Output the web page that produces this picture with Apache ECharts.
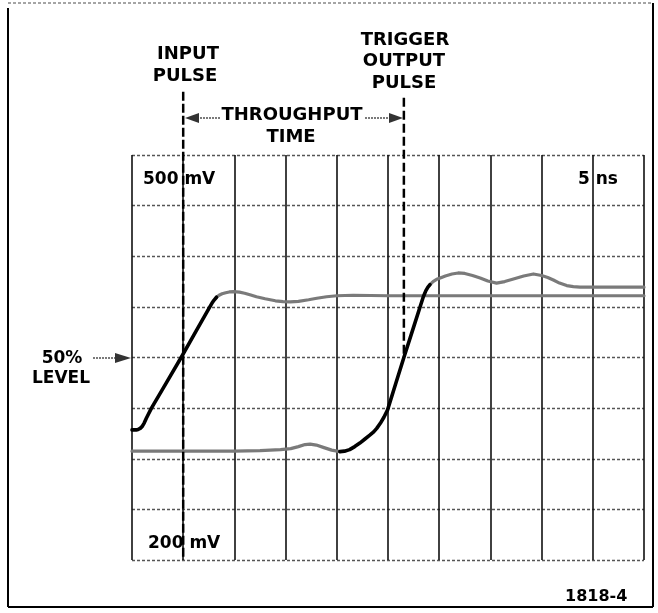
<!DOCTYPE html>
<html>
<head>
<meta charset="utf-8">
<script src="https://cdn.jsdelivr.net/npm/echarts@6/dist/echarts.min.js"></script>
<style>
html,body{margin:0;padding:0;background:#fff;}
#c{width:658px;height:613px;}
</style>
</head>
<body>
<div id="c"></div>
<script>
// ---- data (x in horizontal divisions 0..10, y in vertical divisions 0..8) ----
const xDivs = [0, 10];
const yDivs = [0, 8];
// input pulse: black low level + rising edge
const inputEdge = [[0,2.57],[0.08,2.57],[0.12,2.58],[0.16,2.60],[0.2,2.64],[0.24,2.71],[0.28,2.8],[0.38,3.0],[0.67,3.5],[0.96,4.0],[1.24,4.5],[1.52,5.0],[1.56,5.07],[1.6,5.13],[1.65,5.19]];
// input pulse: grey settled top
const inputTop = [[1.65,5.19],[1.7,5.23],[1.76,5.26],[1.83,5.28],[1.9,5.295],[1.98,5.30],[2.1,5.29],[2.2,5.27],[2.32,5.235],[2.43,5.20],[2.6,5.16],[2.8,5.12],[2.95,5.105],[3.09,5.10],[3.25,5.11],[3.45,5.14],[3.61,5.17],[3.8,5.2],[4.0,5.22],[4.32,5.23],[5.0,5.22],[10,5.22]];
// trigger output: grey low level
const outLow = [[0,2.15],[2.0,2.15],[2.5,2.16],[2.9,2.18],[3.1,2.2],[3.25,2.24],[3.38,2.28],[3.48,2.29],[3.6,2.27],[3.75,2.22],[3.9,2.17],[4.06,2.14]];
// trigger output: black rising edge
const outEdge = [[4.06,2.14],[4.15,2.15],[4.25,2.18],[4.35,2.24],[4.45,2.31],[4.55,2.39],[4.65,2.47],[4.72,2.53],[4.78,2.6],[4.85,2.7],[4.92,2.82],[4.99,2.96],[5.15,3.48],[5.31,4.0],[5.5,4.6],[5.69,5.2],[5.74,5.32],[5.78,5.39],[5.82,5.44]];
// trigger output: grey top with ringing
const outTop = [[5.82,5.44],[5.88,5.5],[5.95,5.545],[6.02,5.57],[6.12,5.61],[6.25,5.65],[6.37,5.67],[6.5,5.66],[6.65,5.62],[6.8,5.57],[6.95,5.51],[7.12,5.47],[7.28,5.5],[7.45,5.55],[7.65,5.61],[7.84,5.65],[8.0,5.62],[8.12,5.58],[8.23,5.53],[8.35,5.47],[8.49,5.42],[8.62,5.40],[8.75,5.39],[10,5.39]];
// markers
const inputMarkerX = 1;
const triggerMarkerX = 5.31;
const fiftyLevel = 4;
const scaleLabels = ['500 mV', '200 mV', '5 ns'];
const figId = '1818-4';

const chart = echarts.init(document.getElementById('c'));
const FONT = 'DejaVu Sans';
const GREY = '#7a7a7a';

function txt(x, y, s, size, align) {
  return {type:'text', x:x, y:y, z:50, style:{text:s, fill:'#000', font:'bold '+size+'px "'+FONT+'"', align:align||'center', verticalAlign:'middle'}};
}
function ln(x1,y1,x2,y2,color,w,dash){
  return {type:'line', z:40, shape:{x1:x1,y1:y1,x2:x2,y2:y2}, style:{stroke:color, lineWidth:w, lineDash:dash||null}};
}
function tri(pts){
  return {type:'polygon', z:41, shape:{points:pts}, style:{fill:'#333'}};
}
function trace(data, color, width, z){
  return {type:'line', data:data, smooth:false, symbol:'none', lineStyle:{color:color, width:width, cap:'round', join:'round'}, z:z};
}

const option = {
  animation:false,
  backgroundColor:'#fff',
  grid:{left:132, top:155, width:512, height:405, show:false},
  xAxis:{type:'value', min:xDivs[0], max:xDivs[1], interval:1,
    axisLine:{show:false}, axisTick:{show:false}, axisLabel:{show:false},
    splitLine:{show:true, showMinLine:true, showMaxLine:true, lineStyle:{color:'#111', width:1.6}}},
  yAxis:{type:'value', min:yDivs[0], max:yDivs[1], interval:1,
    axisLine:{show:false}, axisTick:{show:false}, axisLabel:{show:false},
    splitLine:{show:true, showMinLine:true, showMaxLine:true, lineStyle:{color:'#555', width:1.4, type:[3,2]}}},
  series:[
    trace(inputTop, GREY, 3.2, 5),
    trace(outLow, GREY, 3.2, 5),
    trace(outTop, GREY, 3.2, 5),
    trace(inputEdge, '#000', 3.6, 6),
    trace(outEdge, '#000', 3.6, 6),
    {type:'line', data:[[inputMarkerX,9.25],[inputMarkerX,0]], clip:false, symbol:'none', lineStyle:{color:'#000', width:2.5, type:[9,3]}, z:7},
    {type:'line', data:[[triggerMarkerX,9.13],[triggerMarkerX,fiftyLevel]], clip:false, symbol:'none', lineStyle:{color:'#000', width:2.5, type:[9,4]}, z:7}
  ],
  graphic:[
    // outer frame
    ln(8,8,8,607,'#000',2),
    ln(8,607,653,607,'#000',2),
    ln(653,3,653,607,'#000',2),
    ln(8,3,653,3,'#888',1.5,[3,2]),
    // titles
    txt(188,54,'INPUT',18), txt(185,76.5,'PULSE',18),
    txt(405,40,'TRIGGER',18), txt(404,61.5,'OUTPUT',18), txt(404,83.5,'PULSE',18),
    txt(292,115.5,'THROUGHPUT',18), txt(291,137,'TIME',18),
    // throughput arrows
    ln(197,118,220,118,GREY,2,[2,1]), tri([[185,118],[199,113],[199,123]]),
    ln(365,118,391,118,GREY,2,[2,1]), tri([[389,113],[403,118],[389,123]]),
    // scale labels
    txt(143,179.5,scaleLabels[0],17,'left'),
    txt(148,544,scaleLabels[1],17,'left'),
    txt(578,179.5,scaleLabels[2],17,'left'),
    // 50% level
    txt(62,358.5,'50%',17), txt(61,379,'LEVEL',17),
    ln(93,358,118,358,GREY,2,[2,1]), tri([[115,353],[131,358],[115,363]]),
    // figure id
    txt(565,596.5,figId,16,'left')
  ]
};
chart.setOption(option);
</script>
</body>
</html>
